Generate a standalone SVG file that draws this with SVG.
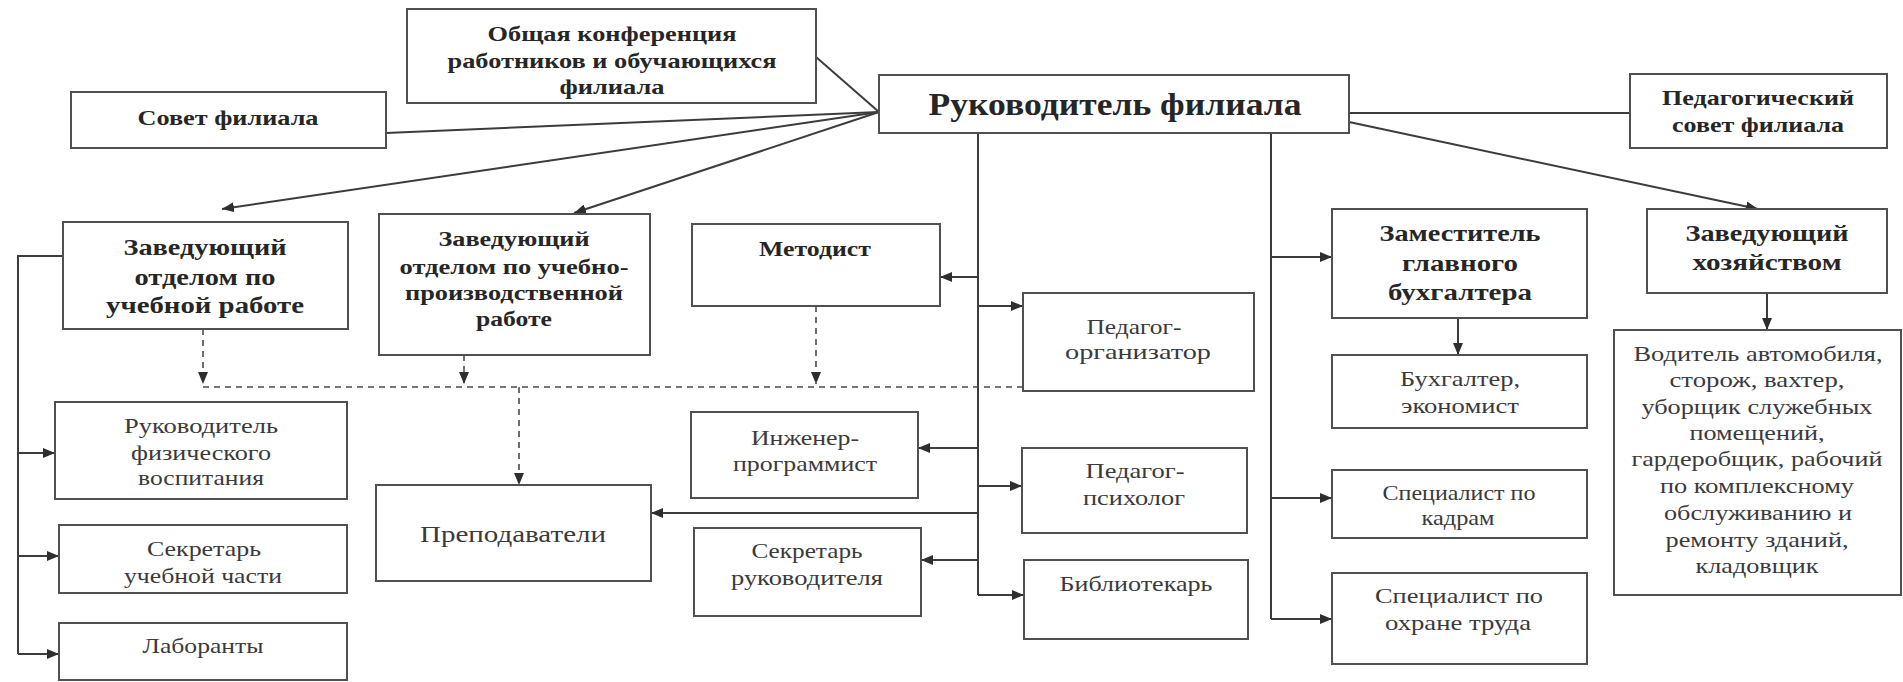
<svg xmlns="http://www.w3.org/2000/svg" width="1903" height="682" viewBox="0 0 1903 682">
<style>
.box{fill:#fff;stroke:#505050;stroke-width:2}
.b{font-family:"Liberation Serif","Times New Roman",serif;font-weight:bold;font-size:22px;fill:#262626;text-anchor:middle;dominant-baseline:central}
.r{font-family:"Liberation Serif","Times New Roman",serif;font-size:21px;fill:#3a3a3a;text-anchor:middle;dominant-baseline:central}
.ln{fill:none;stroke:#3c3c3c;stroke-width:2}
.arr{fill:none;stroke:#3c3c3c;stroke-width:2;marker-end:url(#ah)}
.dash{fill:none;stroke:#4a4a4a;stroke-width:1.6;stroke-dasharray:6 5}
.darr{fill:none;stroke:#4a4a4a;stroke-width:1.6;stroke-dasharray:6 5;marker-end:url(#ah)}
</style>
<defs>
<marker id="ah" markerUnits="userSpaceOnUse" markerWidth="13" markerHeight="10" refX="12" refY="5" orient="auto">
<path d="M0,0 L12,5 L0,10 z" fill="#2e2e2e"/>
</marker>
</defs>
<rect width="1903" height="682" fill="#fff"/>

<g id="connectors">
<path class="ln" d="M816,57 L879,112"/>
<path class="ln" d="M386,133 L879,112"/>
<path class="arr" d="M879,112 L222,209"/>
<path class="arr" d="M879,112 L574,213"/>
<path class="ln" d="M1349,113 L1630,113"/>
<path class="arr" d="M1349,122 L1758,209"/>
<path class="ln" d="M978,133 L978,595"/>
<path class="arr" d="M978,277 L940,277"/>
<path class="arr" d="M978,306 L1023,306"/>
<path class="arr" d="M978,448 L918,448"/>
<path class="arr" d="M978,486 L1022,486"/>
<path class="arr" d="M978,513 L651,513"/>
<path class="arr" d="M978,560 L921,560"/>
<path class="arr" d="M978,595 L1024,595"/>
<path class="ln" d="M1271,133 L1271,619"/>
<path class="arr" d="M1271,257 L1332,257"/>
<path class="arr" d="M1271,498 L1332,498"/>
<path class="arr" d="M1271,619 L1332,619"/>
<path class="arr" d="M1458,318 L1458,355"/>
<path class="arr" d="M1767,293 L1767,330"/>
<path class="ln" d="M63,256 L18,256 L18,654"/>
<path class="arr" d="M18,453 L55,453"/>
<path class="arr" d="M18,556 L59,556"/>
<path class="arr" d="M18,654 L59,654"/>
<path class="darr" d="M203,329 L203,384"/>
<path class="darr" d="M464,355 L464,384"/>
<path class="darr" d="M816,306 L816,384"/>
<path class="dash" d="M203,387 L1023,387"/>
<path class="darr" d="M519,387 L519,485"/>
</g>

<g id="node-konf">
<rect class="box" x="407" y="9" width="409" height="94"/>
<text class="b" x="612" y="33" textLength="249" lengthAdjust="spacingAndGlyphs">Общая конференция</text>
<text class="b" x="612" y="60" textLength="329" lengthAdjust="spacingAndGlyphs">работников и обучающихся</text>
<text class="b" x="612" y="86" textLength="105" lengthAdjust="spacingAndGlyphs">филиала</text>
</g>

<g id="node-sovet">
<rect class="box" x="71" y="92" width="315" height="56"/>
<text class="b" x="228" y="117" textLength="181" lengthAdjust="spacingAndGlyphs">Совет филиала</text>
</g>

<g id="node-ruk">
<rect class="box" x="879" y="75" width="470" height="58"/>
<text class="b" x="1115" y="104" style="font-size:32px" textLength="373" lengthAdjust="spacingAndGlyphs">Руководитель филиала</text>
</g>

<g id="node-pedsovet">
<rect class="box" x="1630" y="74" width="257" height="74"/>
<text class="b" x="1758" y="97" textLength="192" lengthAdjust="spacingAndGlyphs">Педагогический</text>
<text class="b" x="1758" y="124" textLength="172" lengthAdjust="spacingAndGlyphs">совет филиала</text>
</g>

<g id="node-zav-ucheb">
<rect class="box" x="63" y="222" width="285" height="107"/>
<text class="b" x="205" y="247" style="font-size:24px" textLength="163" lengthAdjust="spacingAndGlyphs">Заведующий</text>
<text class="b" x="205" y="277" style="font-size:24px" textLength="141" lengthAdjust="spacingAndGlyphs">отделом по</text>
<text class="b" x="205" y="305" style="font-size:24px" textLength="198" lengthAdjust="spacingAndGlyphs">учебной работе</text>
</g>

<g id="node-zav-uchprod">
<rect class="box" x="379" y="214" width="271" height="141"/>
<text class="b" x="514" y="238" textLength="151" lengthAdjust="spacingAndGlyphs">Заведующий</text>
<text class="b" x="514" y="266" textLength="229" lengthAdjust="spacingAndGlyphs">отделом по учебно-</text>
<text class="b" x="514" y="292" textLength="218" lengthAdjust="spacingAndGlyphs">производственной</text>
<text class="b" x="514" y="318" textLength="76" lengthAdjust="spacingAndGlyphs">работе</text>
</g>

<g id="node-metodist">
<rect class="box" x="692" y="224" width="248" height="82"/>
<text class="b" x="815" y="248" textLength="112" lengthAdjust="spacingAndGlyphs">Методист</text>
</g>

<g id="node-zam-buh">
<rect class="box" x="1332" y="209" width="255" height="109"/>
<text class="b" x="1460" y="233" style="font-size:24px" textLength="161" lengthAdjust="spacingAndGlyphs">Заместитель</text>
<text class="b" x="1460" y="263" style="font-size:24px" textLength="116" lengthAdjust="spacingAndGlyphs">главного</text>
<text class="b" x="1460" y="292" style="font-size:24px" textLength="144" lengthAdjust="spacingAndGlyphs">бухгалтера</text>
</g>

<g id="node-zav-hoz">
<rect class="box" x="1647" y="209" width="240" height="84"/>
<text class="b" x="1767" y="233" style="font-size:24px" textLength="163" lengthAdjust="spacingAndGlyphs">Заведующий</text>
<text class="b" x="1767" y="262" style="font-size:24px" textLength="149" lengthAdjust="spacingAndGlyphs">хозяйством</text>
</g>

<g id="node-ped-org">
<rect class="box" x="1023" y="293" width="231" height="98"/>
<text class="r" x="1134" y="327" textLength="95" lengthAdjust="spacingAndGlyphs">Педагог-</text>
<text class="r" x="1138" y="352" textLength="146" lengthAdjust="spacingAndGlyphs">организатор</text>
</g>

<g id="node-ped-psy">
<rect class="box" x="1022" y="448" width="225" height="85"/>
<text class="r" x="1135" y="471" textLength="99" lengthAdjust="spacingAndGlyphs">Педагог-</text>
<text class="r" x="1134" y="498" textLength="102" lengthAdjust="spacingAndGlyphs">психолог</text>
</g>

<g id="node-bibl">
<rect class="box" x="1024" y="560" width="224" height="79"/>
<text class="r" x="1136" y="584" textLength="153" lengthAdjust="spacingAndGlyphs">Библиотекарь</text>
</g>

<g id="node-buh">
<rect class="box" x="1332" y="355" width="255" height="73"/>
<text class="r" x="1460" y="379" textLength="120" lengthAdjust="spacingAndGlyphs">Бухгалтер,</text>
<text class="r" x="1460" y="406" textLength="118" lengthAdjust="spacingAndGlyphs">экономист</text>
</g>

<g id="node-spec-kadr">
<rect class="box" x="1332" y="470" width="255" height="68"/>
<text class="r" x="1459" y="493" textLength="153" lengthAdjust="spacingAndGlyphs">Специалист по</text>
<text class="r" x="1458" y="518" textLength="73" lengthAdjust="spacingAndGlyphs">кадрам</text>
</g>

<g id="node-spec-ohr">
<rect class="box" x="1332" y="573" width="255" height="91"/>
<text class="r" x="1459" y="596" textLength="168" lengthAdjust="spacingAndGlyphs">Специалист по</text>
<text class="r" x="1458" y="623" textLength="146" lengthAdjust="spacingAndGlyphs">охране труда</text>
</g>

<g id="node-voditel">
<rect class="box" x="1614" y="330" width="287" height="265"/>
<text class="r" x="1758" y="354" textLength="249" lengthAdjust="spacingAndGlyphs">Водитель автомобиля,</text>
<text class="r" x="1757" y="380" textLength="175" lengthAdjust="spacingAndGlyphs">сторож, вахтер,</text>
<text class="r" x="1757" y="407" textLength="231" lengthAdjust="spacingAndGlyphs">уборщик служебных</text>
<text class="r" x="1757" y="433" textLength="135" lengthAdjust="spacingAndGlyphs">помещений,</text>
<text class="r" x="1757" y="459" textLength="251" lengthAdjust="spacingAndGlyphs">гардеробщик, рабочий</text>
<text class="r" x="1757" y="486" textLength="194" lengthAdjust="spacingAndGlyphs">по комплексному</text>
<text class="r" x="1758" y="513" textLength="188" lengthAdjust="spacingAndGlyphs">обслуживанию и</text>
<text class="r" x="1757" y="540" textLength="183" lengthAdjust="spacingAndGlyphs">ремонту зданий,</text>
<text class="r" x="1757" y="566" textLength="123" lengthAdjust="spacingAndGlyphs">кладовщик</text>
</g>

<g id="node-ruk-fiz">
<rect class="box" x="55" y="402" width="292" height="97"/>
<text class="r" x="201" y="426" textLength="154" lengthAdjust="spacingAndGlyphs">Руководитель</text>
<text class="r" x="201" y="453" textLength="140" lengthAdjust="spacingAndGlyphs">физического</text>
<text class="r" x="201" y="478" textLength="126" lengthAdjust="spacingAndGlyphs">воспитания</text>
</g>

<g id="node-sekr-uch">
<rect class="box" x="59" y="525" width="288" height="68"/>
<text class="r" x="204" y="549" textLength="114" lengthAdjust="spacingAndGlyphs">Секретарь</text>
<text class="r" x="203" y="576" textLength="158" lengthAdjust="spacingAndGlyphs">учебной части</text>
</g>

<g id="node-labor">
<rect class="box" x="59" y="623" width="288" height="57"/>
<text class="r" x="203" y="646" textLength="121" lengthAdjust="spacingAndGlyphs">Лаборанты</text>
</g>

<g id="node-prepod">
<rect class="box" x="376" y="485" width="275" height="96"/>
<text class="r" x="513" y="534" style="font-size:24px" textLength="186" lengthAdjust="spacingAndGlyphs">Преподаватели</text>
</g>

<g id="node-inzh">
<rect class="box" x="691" y="412" width="227" height="86"/>
<text class="r" x="805" y="438" textLength="108" lengthAdjust="spacingAndGlyphs">Инженер-</text>
<text class="r" x="805" y="464" textLength="144" lengthAdjust="spacingAndGlyphs">программист</text>
</g>

<g id="node-sekr-ruk">
<rect class="box" x="694" y="528" width="227" height="88"/>
<text class="r" x="807" y="551" textLength="111" lengthAdjust="spacingAndGlyphs">Секретарь</text>
<text class="r" x="807" y="578" textLength="152" lengthAdjust="spacingAndGlyphs">руководителя</text>
</g>
</svg>
